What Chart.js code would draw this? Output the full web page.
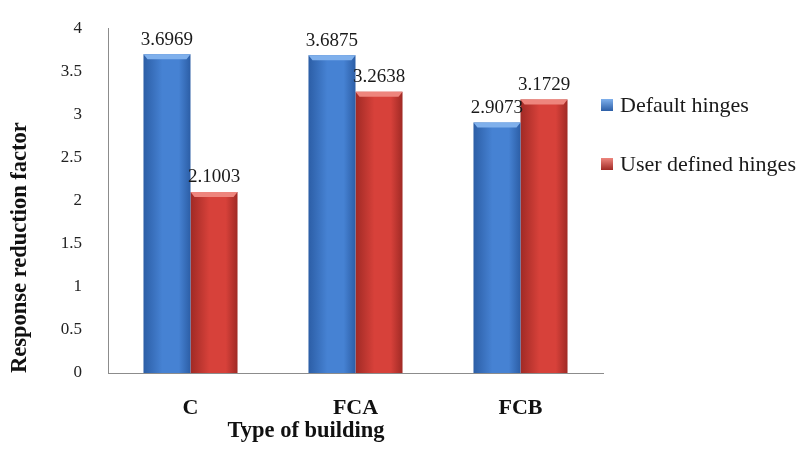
<!DOCTYPE html>
<html>
<head>
<meta charset="utf-8">
<script src="https://cdn.jsdelivr.net/npm/chart.js@4.4.0/dist/chart.umd.min.js"></script>
<style>
html, body { margin: 0; padding: 0; background: #fff; }
</style>
</head>
<body>
<canvas id="myChart" width="805" height="450"></canvas>
<script>
const categories = ['C', 'FCA', 'FCB'];
const seriesNames = ['Default hinges', 'User defined hinges'];
const defaultHinges = [3.6969, 3.6875, 2.9073];
const userHinges = [2.1003, 3.2638, 3.1729];
const yTicks = [0, 0.5, 1, 1.5, 2, 2.5, 3, 3.5, 4];
const xTitle = 'Type of building';
const yTitle = 'Response reduction factor';

const serif = 'Liberation Serif, Times New Roman, serif';
const catPct = 0.57;
// dark edge, light middle, top bevel
const blue = ['#2c5ea6', '#4682d3', '#7fb0ec'];
const red = ['#a02a25', '#d7413a', '#ee857d'];

function barFill(cols) {
  return function (c) {
    const chart = c.chart;
    const xs = chart.scales.x;
    if (!chart.chartArea || !xs || c.type !== 'data') return cols[1];
    const w = xs.width / categories.length * catPct / 2;
    const center = xs.getPixelForValue(c.dataIndex);
    const left = c.datasetIndex === 0 ? center - w : center;
    const g = chart.ctx.createLinearGradient(left, 0, left + w, 0);
    g.addColorStop(0, cols[0]);
    g.addColorStop(0.4, cols[1]);
    g.addColorStop(0.75, cols[1]);
    g.addColorStop(1, cols[0]);
    return g;
  };
}

// bevel on bar tops + value labels
const barDecor = {
  id: 'barDecor',
  afterDatasetsDraw(chart) {
    const ctx = chart.ctx;
    ctx.save();
    chart.data.datasets.forEach((ds, i) => {
      const cols = i === 0 ? blue : red;
      chart.getDatasetMeta(i).data.forEach((bar, j) => {
        const l = bar.x - bar.width / 2, r = bar.x + bar.width / 2;
        ctx.fillStyle = cols[2];
        ctx.beginPath();
        ctx.moveTo(l, bar.y);
        ctx.lineTo(r, bar.y);
        ctx.lineTo(r - 4, bar.y + 5);
        ctx.lineTo(l + 4, bar.y + 5);
        ctx.closePath();
        ctx.fill();
        ctx.fillStyle = '#1a1a1a';
        ctx.font = '19px ' + serif;
        ctx.textAlign = 'center';
        ctx.textBaseline = 'bottom';
        ctx.fillText(String(ds.data[j]), bar.x, bar.y - 5);
      });
    });
    ctx.restore();
  }
};

// legend on the right and the x axis title (sits left of centre in the original)
const sideLegend = {
  id: 'sideLegend',
  afterDraw(chart) {
    const ctx = chart.ctx;
    ctx.save();
    chart.data.datasets.forEach((ds, i) => {
      const cols = i === 0 ? blue : red;
      const y = 105 + i * 59;
      const g = ctx.createLinearGradient(0, y - 6, 0, y + 6);
      g.addColorStop(0, cols[2]);
      g.addColorStop(1, cols[0]);
      ctx.fillStyle = g;
      ctx.fillRect(601, y - 6, 12, 12);
      ctx.fillStyle = '#1a1a1a';
      ctx.font = '22px ' + serif;
      ctx.textAlign = 'left';
      ctx.textBaseline = 'middle';
      ctx.fillText(ds.label, 620, y + 1);
    });
    ctx.fillStyle = '#111';
    ctx.font = 'bold 22.5px ' + serif;
    ctx.textAlign = 'center';
    ctx.textBaseline = 'middle';
    ctx.fillText(xTitle, 306, 431);
    ctx.restore();
  }
};

const ctx = document.getElementById('myChart').getContext('2d');
new Chart(ctx, {
  type: 'bar',
  data: {
    labels: categories,
    datasets: [
      { label: seriesNames[0], data: defaultHinges, backgroundColor: barFill(blue) },
      { label: seriesNames[1], data: userHinges, backgroundColor: barFill(red) }
    ]
  },
  options: {
    responsive: false,
    animation: false,
    categoryPercentage: catPct,
    barPercentage: 1,
    layout: { padding: { top: 17, right: 202, left: 0, bottom: 0 } },
    plugins: { legend: { display: false }, tooltip: { enabled: false } },
    scales: {
      x: {
        grid: { display: false },
        border: { color: '#8c8c8c' },
        ticks: { padding: 14, color: '#111', font: { family: serif, size: 22, weight: 'bold' } },
        afterFit(s) { s.height = 77; }
      },
      y: {
        min: 0, max: 4,
        grid: { display: false },
        border: { color: '#8c8c8c' },
        afterBuildTicks(s) { s.ticks = yTicks.map(v => ({ value: v })); },
        ticks: {
          padding: 18, color: '#222', font: { family: serif, size: 17 },
          callback: v => String(v)
        },
        title: {
          display: true, text: yTitle, color: '#111', align: 'start',
          font: { family: serif, size: 22.5, weight: 'bold' },
          padding: { top: 7, bottom: 0 }
        },
        afterFit(s) { s.width = 108; }
      }
    }
  },
  plugins: [barDecor, sideLegend]
});
</script>
</body>
</html>
